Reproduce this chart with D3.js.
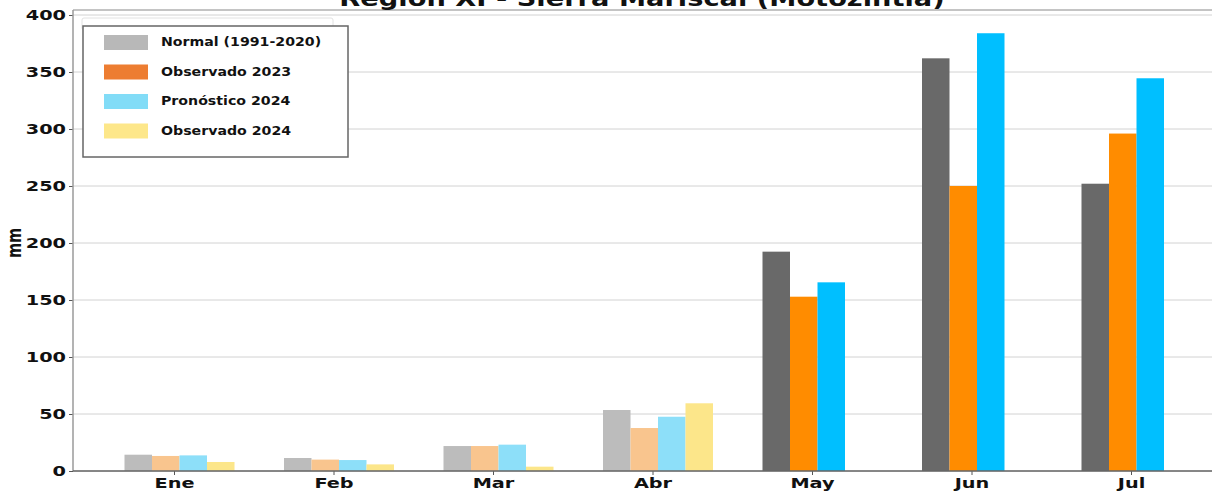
<!DOCTYPE html>
<html>
<head>
<meta charset="utf-8">
<style>
  body { margin: 0; background: #fff; }
  text { font-family: "DejaVu Sans", sans-serif; font-weight: bold; fill: #111; }
</style>
</head>
<body>
<div id="chart"></div>
<script src="https://d3js.org/d3.v7.min.js"></script>
<script>
    // datos (mm)
    const months = ['Ene', 'Feb', 'Mar', 'Abr', 'May', 'Jun', 'Jul'];
    const normal = [14.3, 11.4, 21.9, 53.5, 192.4, 362, 252];
    const obs2023 = [13.2, 10.0, 21.9, 37.7, 152.9, 250, 296];
    const pron2024 = [13.7, 9.6, 23.1, 47.6, 165.5, 384, 344.5];
    const obs2024 = [7.9, 5.8, 3.8, 59.4, null, null, null];
    const yTicks = [0, 50, 100, 150, 200, 250, 300, 350, 400];
    const seriesNames = ['Normal (1991-2020)', 'Observado 2023', 'Pronóstico 2024', 'Observado 2024'];

    const fadedColors = ['#bcbcbc', '#f9c58e', '#8ddff9', '#fce68a'];
    const darkColors = ['#696969', '#ff8c00', '#00bfff', '#00bfff'];
    const legendColors = ['#b8b8b8', '#ed7d31', '#82dcf7', '#fde78a'];

    const W = 1212, H = 491;
    const mLeft = 73, mRight = 1212, mTop = 10, mBottom = 471;
    const sx = 1.33; // estirado horizontal del texto

    const svg = d3.select('#chart').append('svg')
                  .attr('width', W).attr('height', H);

    const x = d3.scaleBand().domain(months).range([94.75, 1211.25]).padding(0);
    const xs = d3.scaleBand().domain(d3.range(4)).range([-50, 60]).padding(0);
    const y = d3.scaleLinear().domain([0, 400]).range([mBottom, 15]);

    // grid
    svg.append('g').selectAll('line').data(yTicks).enter().append('line')
       .attr('x1', mLeft).attr('x2', mRight)
       .attr('y1', d => y(d)).attr('y2', d => y(d))
       .style('stroke', '#d2d2d2').style('stroke-width', 1);

    // barras
    const series = [normal, obs2023, pron2024, obs2024];
    const bars = [];
    series.forEach((s, si) => {
        s.forEach((v, mi) => {
            if (v == null) return;
            bars.push({m: months[mi], s: si, v: v, faded: obs2024[mi] != null});
        });
    });
    svg.append('g').selectAll('rect').data(bars).enter().append('rect')
       .attr('x', d => x(d.m) + x.bandwidth() / 2 + xs(d.s))
       .attr('width', xs.bandwidth())
       .attr('y', d => y(d.v))
       .attr('height', d => y(0) - y(d.v))
       .style('fill', d => d.faded ? fadedColors[d.s] : darkColors[d.s]);

    // ejes
    const yAxis = svg.append('g').attr('transform', `translate(${mLeft},0)`)
                     .call(d3.axisLeft(y).tickValues(yTicks).tickSize(4).tickPadding(4));
    const xAxis = svg.append('g').attr('transform', `translate(0,${mBottom})`)
                     .call(d3.axisBottom(x).tickSize(4).tickPadding(3));
    [yAxis, xAxis].forEach(a => {
        a.select('.domain').remove();
        a.selectAll('.tick line').style('stroke', '#555');
        a.selectAll('text').style('font-size', '14.5px').style('font-family', '"DejaVu Sans", sans-serif')
         .style('font-weight', 'bold').style('fill', '#111');
    });
    yAxis.selectAll('.tick text').attr('transform', `scale(${sx},1)`).attr('x', -7 / sx);
    xAxis.selectAll('.tick text').attr('transform', `scale(${sx},1)`);

    // marco
    svg.append('line').attr('x1', mLeft).attr('x2', mRight).attr('y1', mTop).attr('y2', mTop)
       .style('stroke', '#8a8a8a').style('stroke-width', 1.2);
    svg.append('line').attr('x1', mLeft).attr('x2', mLeft).attr('y1', mTop).attr('y2', mBottom)
       .style('stroke', '#9a9a9a').style('stroke-width', 1.5);
    svg.append('line').attr('x1', mLeft).attr('x2', mRight).attr('y1', mBottom).attr('y2', mBottom)
       .style('stroke', '#666').style('stroke-width', 1.5);

    // titulo
    svg.append('text').attr('transform', `translate(642,6) scale(${sx},1)`)
       .attr('text-anchor', 'middle').style('font-size', '20.5px')
       .text('Región XI - Sierra Mariscal (Motozintla)');

    // etiqueta eje y
    svg.append('text').attr('transform', 'translate(21,243) rotate(-90) scale(1,1.3)')
       .attr('text-anchor', 'middle').style('font-size', '14.5px')
       .text('mm');

    // leyenda
    svg.append('rect').attr('x', 82).attr('y', 18).attr('width', 251).attr('height', 12)
       .attr('rx', 2).style('fill', 'none').style('stroke', '#e2e2e2');
    const lg = svg.append('g');
    lg.append('rect').attr('x', 83).attr('y', 26).attr('width', 265).attr('height', 131)
      .style('fill', '#fff').style('stroke', '#666').style('stroke-width', 1.5);
    const items = lg.selectAll('g.item').data(seriesNames).enter().append('g')
                    .attr('transform', (d, i) => `translate(0,${46 + i * 29.5})`);
    items.append('rect').attr('x', 104).attr('y', -11).attr('width', 44).attr('height', 15)
         .style('fill', (d, i) => legendColors[i]);
    items.append('text').attr('transform', 'translate(161,0) scale(1.09,1)')
         .style('font-size', '13px').text(d => d);
</script>
</body>
</html>
